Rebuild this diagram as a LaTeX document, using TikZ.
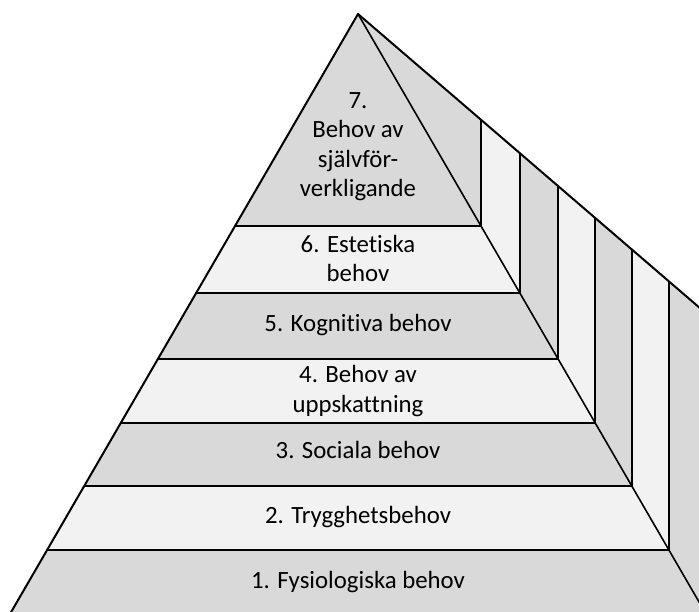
\documentclass[tikz,border=0pt]{standalone}
\usepackage{fontspec}
\setmainfont{Carlito}[RawFeature={-liga;-clig}]
\definecolor{bandgray}{HTML}{D9D9D9}
\definecolor{bandlight}{HTML}{F2F2F2}
\tikzset{
  edge/.style={line width=1.6pt, line join=round},
  rim/.style={line width=2pt, line join=round},
  lbl/.style={anchor=base, align=center, inner sep=0pt,
    font=\fontsize{24.8}{29.5}\selectfont}
}
\begin{document}
\begin{tikzpicture}[x=1pt, y=-1pt]
\useasboundingbox (0,0) rectangle (699,612);
\clip (0,0) rectangle (699,612);

% apex and front-face corners (left l, right r) at each level boundary
\coordinate (A)  at (358,14);
\coordinate (l1) at (235.0,226); \coordinate (r1) at (481.0,226);
\coordinate (l2) at (196.2,293); \coordinate (r2) at (519.8,293);
\coordinate (l3) at (157.9,359); \coordinate (r3) at (558.1,359);
\coordinate (l4) at (120.8,423); \coordinate (r4) at (595.2,423);
\coordinate (l5) at (84.2,486);  \coordinate (r5) at (631.8,486);
\coordinate (l6) at (47.1,550);  \coordinate (r6) at (668.9,550);
\coordinate (l7) at (6.5,620);   \coordinate (r7) at (709.5,620);
% points on the back silhouette above each right corner
\coordinate (t1) at (481.0,119.8);
\coordinate (t2) at (519.8,153.1);
\coordinate (t3) at (558.1,186.1);
\coordinate (t4) at (595.2,218.0);
\coordinate (t5) at (631.8,249.5);
\coordinate (t6) at (668.9,281.4);
\coordinate (t7) at (720,325.3);

% front face levels
\fill[bandgray]  (A) -- (l1) -- (r1) -- cycle;
\fill[bandlight] (l1) -- (l2) -- (r2) -- (r1) -- cycle;
\fill[bandgray]  (l2) -- (l3) -- (r3) -- (r2) -- cycle;
\fill[bandlight] (l3) -- (l4) -- (r4) -- (r3) -- cycle;
\fill[bandgray]  (l4) -- (l5) -- (r5) -- (r4) -- cycle;
\fill[bandlight] (l5) -- (l6) -- (r6) -- (r5) -- cycle;
\fill[bandgray]  (l6) -- (l7) -- (r7) -- (r6) -- cycle;

% side face strips
\fill[bandgray]  (A) -- (t1) -- (r1) -- cycle;
\fill[bandlight] (r1) -- (t1) -- (t2) -- (r2) -- cycle;
\fill[bandgray]  (r2) -- (t2) -- (t3) -- (r3) -- cycle;
\fill[bandlight] (r3) -- (t3) -- (t4) -- (r4) -- cycle;
\fill[bandgray]  (r4) -- (t4) -- (t5) -- (r5) -- cycle;
\fill[bandlight] (r5) -- (t5) -- (t6) -- (r6) -- cycle;
\fill[bandgray]  (r6) -- (t6) -- (t7) -- (720,640) -- (r7) -- cycle;

% level boundaries
\foreach \i in {1,...,6} \draw[edge] (l\i) -- (r\i);
% vertical edges on the side face
\foreach \i in {1,...,6} \draw[edge] (r\i) -- (t\i);
% outline
\draw[edge] (A) -- (r7);
\draw[rim] (l7) -- (A) -- (t7);

% labels (anchored on the baseline of their last line)
\node[lbl] (n7) at (358,197) {7.\\Behov av\\självför-\\verkligande};
\node[lbl] (n6) at (358,282) {6. Estetiska\\behov};
\node[lbl] (n5) at (358,332) {5. Kognitiva behov};
\node[lbl] (n4) at (358,412) {4. Behov av\\uppskattning};
\node[lbl] (n3) at (358,458) {3. Sociala behov};
\node[lbl] (n2) at (358,523) {2. Trygghetsbehov};
\node[lbl] (n1) at (358,588) {1. Fysiologiska behov};
\end{tikzpicture}
\end{document}
